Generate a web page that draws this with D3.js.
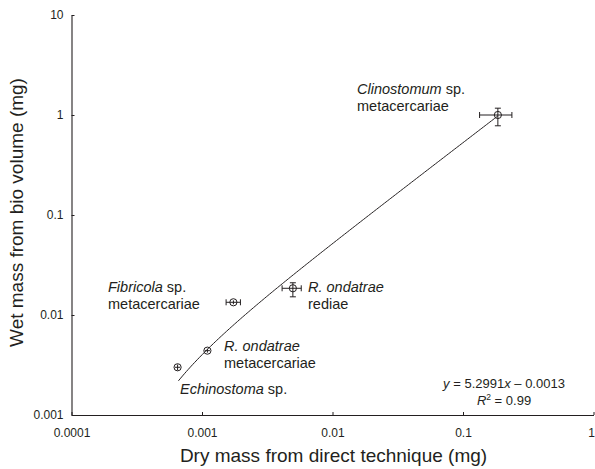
<!DOCTYPE html>
<html>
<head>
<meta charset="utf-8">
<script src="https://cdn.jsdelivr.net/npm/d3@7"></script>
<style>
  body { margin: 0; background: #fff; }
  svg { font-family: "Liberation Sans", Arial, sans-serif; }
  .axis path, .axis line { stroke: #231f20; }
  .axis text { font-size: 12px; fill: #231f20; }
</style>
</head>
<body>
<script>
// Data (mg)
var species = ["Echinostoma", "R. ondatrae", "Fibricola", "R. ondatrae", "Clinostomum"];
var stages  = ["sp.", "metacercariae", "sp. metacercariae", "rediae", "sp. metacercariae"];
var dryMass = [0.00065, 0.00110, 0.00174, 0.00497, 0.185];
var dryLo   = [0.00062, 0.00105, 0.00153, 0.00411, 0.134];
var dryHi   = [0.00068, 0.00115, 0.00197, 0.00576, 0.237];
var wetMass = [0.0030, 0.0044, 0.0134, 0.0185, 1.0];
var wetLo   = [0.0028, 0.0042, 0.0128, 0.0152, 0.78];
var wetHi   = [0.0032, 0.0046, 0.0140, 0.0210, 1.17];

// Regression shown on the figure
var fitSlope = 5.2991;
var fitIntercept = -0.0013;
var fitFrom = 0.00066;
var fitTo = 0.185;

var xTicks = [0.0001, 0.001, 0.01, 0.1, 1];
var yTicks = [0.001, 0.01, 0.1, 1, 10];

var width = 595, height = 469;

var svg = d3.select("body").append("svg")
    .attr("width", width)
    .attr("height", height);

var xScale = d3.scaleLog().domain([0.0001, 1]).range([71.5, 593.5]);
var yScale = d3.scaleLog().domain([0.001, 10]).range([415, 15]);

var fmt = function(d) { return String(+d.toPrecision(1)); };

var xAxis = d3.axisBottom(xScale).tickValues(xTicks).tickFormat(fmt)
    .tickSizeInner(-3).tickSizeOuter(0).tickPadding(13.5);
var yAxis = d3.axisLeft(yScale).tickValues(yTicks).tickFormat(fmt)
    .tickSizeInner(-3).tickSizeOuter(0).tickPadding(8);

var gx = svg.append("g")
    .attr("class", "axis")
    .attr("transform", "translate(0,415)")
    .call(xAxis);
svg.append("g")
    .attr("class", "axis")
    .attr("transform", "translate(71.5,0)")
    .call(yAxis);
svg.selectAll(".axis .domain").attr("stroke-width", 1.1);
// last x label sits on the page edge, nudge it in
gx.selectAll(".tick text").filter(function(d) { return d === 1; }).attr("dx", -2.5);

// Axis titles
svg.append("text")
    .attr("x", 333.5).attr("y", 462)
    .attr("text-anchor", "middle")
    .style("font-size", "19px").attr("fill", "#231f20")
    .text("Dry mass from direct technique (mg)");
svg.append("text")
    .attr("transform", "translate(22.5,212.5) rotate(-90)")
    .attr("text-anchor", "middle")
    .style("font-size", "19px").attr("fill", "#231f20")
    .text("Wet mass from bio volume (mg)");

// Fitted line y = a x + b
var fitX = d3.range(0, 201).map(function(i) {
  return Math.pow(10, Math.log10(fitFrom) + i / 200 * (Math.log10(fitTo) - Math.log10(fitFrom)));
});
var line = d3.line()
    .x(function(d) { return xScale(d); })
    .y(function(d) { return yScale(fitSlope * d + fitIntercept); });
svg.append("path")
    .datum(fitX)
    .attr("d", line)
    .attr("fill", "none")
    .attr("stroke", "#231f20")
    .attr("stroke-width", 1);

// Points with error bars
var pts = dryMass.map(function(d, i) {
  return {x: d, y: wetMass[i], xl: dryLo[i], xh: dryHi[i], yl: wetLo[i], yh: wetHi[i]};
});
var cap = 3;
var g = svg.append("g").attr("stroke", "#231f20").attr("stroke-width", 1).attr("fill", "none");
pts.forEach(function(p) {
  var cx = xScale(p.x), cy = yScale(p.y);
  var x1 = xScale(p.xl), x2 = xScale(p.xh), y1 = yScale(p.yl), y2 = yScale(p.yh);
  g.append("line").attr("x1", x1).attr("x2", x2).attr("y1", cy).attr("y2", cy);
  g.append("line").attr("x1", cx).attr("x2", cx).attr("y1", y1).attr("y2", y2);
  if (x2 - x1 > 9) {
    g.append("line").attr("x1", x1).attr("x2", x1).attr("y1", cy - cap).attr("y2", cy + cap);
    g.append("line").attr("x1", x2).attr("x2", x2).attr("y1", cy - cap).attr("y2", cy + cap);
  }
  if (y1 - y2 > 9) {
    g.append("line").attr("x1", cx - cap).attr("x2", cx + cap).attr("y1", y1).attr("y2", y1);
    g.append("line").attr("x1", cx - cap).attr("x2", cx + cap).attr("y1", y2).attr("y2", y2);
  }
  g.append("circle").attr("cx", cx).attr("cy", cy).attr("r", 3.6);
});

// Annotations: species name in italics, then stage
function label(x, y, ital, rest, second) {
  var t = svg.append("text").attr("x", x).attr("y", y)
      .style("font-size", "14.5px").attr("fill", "#231f20");
  t.append("tspan").style("font-style", "italic").text(ital);
  if (rest) t.append("tspan").text(" " + rest);
  if (second) {
    svg.append("text").attr("x", x).attr("y", y + 17)
        .style("font-size", "14.5px").attr("fill", "#231f20").text(second);
  }
}
label(357, 94, species[4], "sp.", "metacercariae");
label(108, 292, species[2], "sp.", "metacercariae");
label(308, 291.5, species[3], null, stages[3]);
label(224, 350.5, species[1], null, stages[1]);
label(180, 393.5, species[0], stages[0], null);

// Equation
var eq = svg.append("text").attr("x", 504).attr("y", 388)
    .attr("text-anchor", "middle").style("font-size", "13px").attr("fill", "#231f20");
eq.append("tspan").style("font-style", "italic").text("y");
eq.append("tspan").text(" = " + fitSlope + "");
eq.append("tspan").style("font-style", "italic").text("x");
eq.append("tspan").text(" \u2013 " + Math.abs(fitIntercept));
var r2 = svg.append("text").attr("x", 504).attr("y", 405)
    .attr("text-anchor", "middle").style("font-size", "13px").attr("fill", "#231f20");
r2.append("tspan").style("font-style", "italic").text("R");
r2.append("tspan").attr("dy", -5).style("font-size", "8.5px").text("2");
r2.append("tspan").attr("dy", 5).text(" = 0.99");
</script>
</body>
</html>
